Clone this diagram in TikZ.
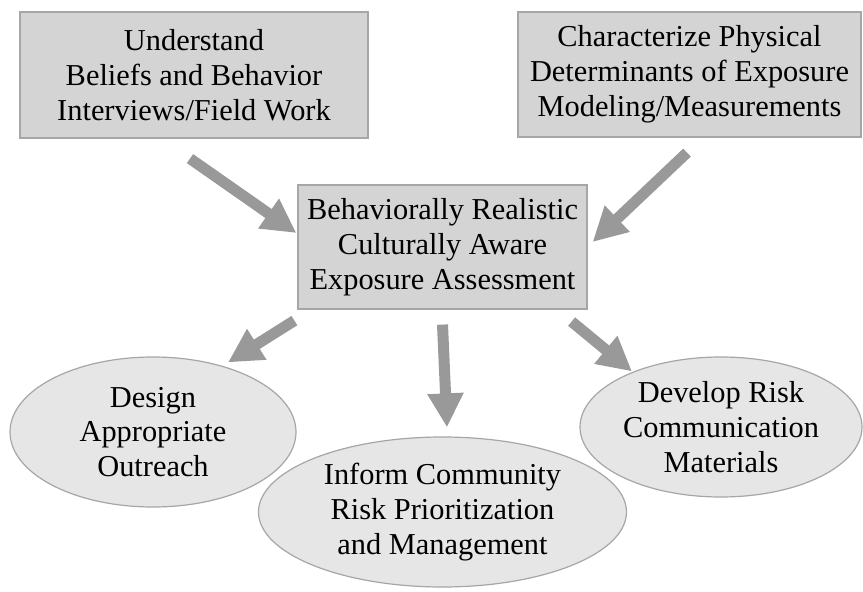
\documentclass[tikz,border=0pt]{standalone}
\usepackage{fontspec}
\setmainfont{Liberation Serif}
\usetikzlibrary{shapes.geometric,arrows.meta}
\definecolor{boxgray}{HTML}{D4D4D4}
\definecolor{ovalgray}{HTML}{E6E6E6}
\definecolor{edgegray}{HTML}{A6A6A6}
\definecolor{arrowgray}{HTML}{999999}
\begin{document}
\begin{tikzpicture}[x=1bp,y=-1bp,
  box/.style={draw=edgegray, line width=1.2bp, fill=boxgray, rectangle, inner sep=0pt, align=center, font=\fontsize{30.5}{35}\selectfont},
  oval/.style={draw=edgegray, line width=1.2bp, fill=ovalgray, ellipse, inner sep=0pt, align=center, font=\fontsize{30.5}{35}\selectfont},
  bigarrow/.style={draw=arrowgray, line width=11bp, -{Triangle[length=34bp,width=34bp]}, arrowgray}]
\useasboundingbox (0,0) rectangle (863,592);
\node (assess) [box, minimum width=289bp, minimum height=124bp] at (442.5,247) {Behaviorally Realistic\\Culturally Aware\\Exposure Assessment};
\node (beliefs) [box, minimum width=348bp, minimum height=126bp] at (194,75) {Understand\\Beliefs and Behavior\\Interviews/Field Work};
\node (physical) [box, minimum width=343bp, minimum height=125bp] at (689.5,74.5) {Characterize Physical\\Determinants of Exposure\\Modeling/Measurements};
\node (outreach) [oval, minimum width=286bp, minimum height=150bp] at (153,432) {Design\\Appropriate\\Outreach};
\node (develop) [oval, minimum width=282bp, minimum height=140bp] at (721,427) {Develop Risk\\Communication\\Materials};
\node (inform) [oval, minimum width=368bp, minimum height=150bp] at (442.5,512) {Inform Community\\Risk Prioritization\\and Management};

\draw [bigarrow]([xshift=-4bp,yshift=-20bp]beliefs.south)--([xshift=-1bp,yshift=14bp]assess.west);
\draw [bigarrow]([xshift=-2.5bp,yshift=-15bp]physical.south)--([xshift=5bp,yshift=5bp]assess.east);
\draw [bigarrow]([xshift=-3bp,yshift=-11bp]assess.south west)--([xshift=75bp,yshift=-6bp]outreach.north);
\draw [bigarrow]([yshift=-15bp]assess.south)--([xshift=4.5bp,yshift=9bp]inform.north);
\draw [bigarrow]([xshift=-16bp,yshift=-12bp]assess.south east)--([xshift=-89bp,yshift=-15bp]develop.north);
\end{tikzpicture}
\end{document}
